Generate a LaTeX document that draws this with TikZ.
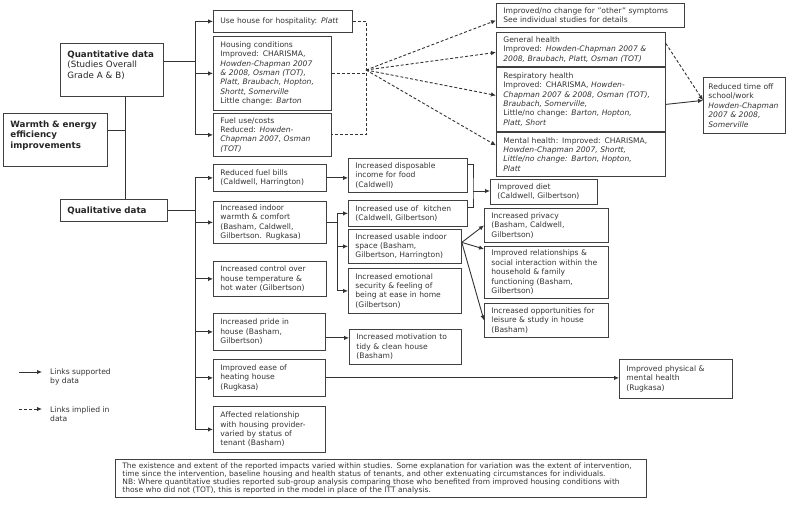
\documentclass[tikz,border=0pt]{standalone}
\usepackage{fontspec}
\setmainfont{DejaVu Sans}
\usetikzlibrary{arrows.meta}

\newcommand{\boxfont}{\fontsize{7.6}{9.4}\selectfont}
\newcommand{\headfont}{\fontsize{8.7}{10.6}\selectfont}
\newcommand{\notefont}{\fontsize{7.5}{8.2}\selectfont}

\tikzset{
  box/.style={draw=black!75, line width=0.8pt, anchor=north west, align=left, inner xsep=7pt, inner ysep=1pt, text=black!80, font=\boxfont},
  head/.style={box, font=\headfont, text=black!85},
  line/.style={line width=0.9pt, draw=black!80},
  link/.style={line, ->},
  implied/.style={line, dash pattern=on 3pt off 2pt},
  legend/.style={anchor=west, align=left, inner sep=0pt, text=black!80, font=\boxfont},
}

\begin{document}
\begin{tikzpicture}[x=1pt,y=-1pt,>={Latex[length=5pt,width=4.5pt]}]
	\useasboundingbox (0,0) rectangle (793,505);

	%headings
	\node[head, text width=89pt, minimum height=53pt] (quant) at (60,43) {\textbf{Quantitative data}\\(Studies Overall\\Grade A \& B)\\ \mbox{}};
	\node[head, text width=90pt, minimum height=53pt] (warm) at (3,113) {\textbf{Warmth \& energy}\\\textbf{efficiency}\\\textbf{improvements}\\ \mbox{}};
	\node[head, text width=93pt, minimum height=22pt] (qual) at (60,199) {\textbf{Qualitative data}};

	%quantitative outcomes
	\node[box, text width=125pt, minimum height=22pt] (hosp) at (213,10) {Use house for hospitality: \textit{Platt}};
	\node[box, text width=104pt, minimum height=74pt] (hcond) at (213,36) {Housing conditions\\Improved: CHARISMA,\\\textit{Howden-Chapman 2007}\\\textit{\& 2008, Osman (TOT),}\\\textit{Platt, Braubach, Hopton,}\\\textit{Shortt, Somerville}\\Little change: \textit{Barton}};
	\node[box, text width=104pt, minimum height=43pt] (fuel) at (213,113) {Fuel use/costs\\Reduced: \textit{Howden-}\\\textit{Chapman 2007, Osman}\\\textit{(TOT)}};

	%health outcomes
	\node[box, text width=174pt, minimum height=24pt] (other) at (496,3) {Improved/no change for "other" symptoms\\See individual studies for details};
	\node[box, text width=155pt, minimum height=34pt] (gen) at (496,32) {General health\\Improved: \textit{Howden-Chapman 2007 \&}\\\textit{2008, Braubach, Platt, Osman (TOT)}};
	\node[box, text width=155pt, minimum height=64pt] (resp) at (496,67) {Respiratory health\\Improved: CHARISMA, \textit{Howden-}\\\textit{Chapman 2007 \& 2008, Osman (TOT),}\\\textit{Braubach, Somerville,}\\Little/no change: \textit{Barton, Hopton,}\\\textit{Platt, Short}};
	\node[box, text width=155pt, minimum height=44pt] (ment) at (496,132) {Mental health: Improved: CHARISMA,\\\textit{Howden-Chapman 2007, Shortt,}\\\textit{Little/no change: Barton, Hopton,}\\\textit{Platt}};
	\node[box, inner xsep=5pt, text width=72pt, minimum height=56pt] (timeoff) at (703,77) {Reduced time off\\school/work\\\textit{Howden-Chapman}\\\textit{2007 \& 2008,}\\\textit{Somerville}};

	%qualitative outcomes
	\node[box, text width=99pt, minimum height=27pt] (fuelbill) at (213,164) {Reduced fuel bills\\(Caldwell, Harrington)};
	\node[box, text width=99pt, minimum height=42pt] (comfort) at (213,201) {Increased indoor\\warmth \& comfort\\(Basham, Caldwell,\\Gilbertson. Rugkasa)};
	\node[box, text width=99pt, minimum height=35pt] (control) at (213,261) {Increased control over\\house temperature \&\\hot water (Gilbertson)};
	\node[box, text width=98pt, minimum height=37pt] (pride) at (213,313) {Increased pride in\\house (Basham,\\Gilbertson)};
	\node[box, text width=98pt, minimum height=37pt] (ease) at (213,359) {Improved ease of\\heating house\\(Rugkasa)};
	\node[box, text width=98pt, minimum height=46pt] (provider) at (213,406) {Affected relationship\\with housing provider-\\varied by status of\\tenant (Basham)};

	%second level
	\node[box, text width=105pt, minimum height=34pt] (income) at (348,158) {Increased disposable\\income for food\\(Caldwell)};
	\node[box, text width=105pt, minimum height=26pt] (kitchen) at (348,200) {Increased use of \ kitchen\\(Caldwell, Gilbertson)};
	\node[box, text width=99pt, minimum height=34pt] (space) at (348,229) {Increased usable indoor\\space (Basham,\\Gilbertson, Harrington)};
	\node[box, text width=99pt, minimum height=45pt] (secure) at (348,268) {Increased emotional\\security \& feeling of\\being at ease in home\\(Gilbertson)};
	\node[box, text width=98pt, minimum height=35pt] (tidy) at (349,329) {Increased motivation to\\tidy \& clean house\\(Basham)};

	%third level
	\node[box, text width=93pt, minimum height=25pt] (diet) at (490,179) {Improved diet\\(Caldwell, Gilbertson)};
	\node[box, text width=110pt, minimum height=34pt] (privacy) at (484,208) {Increased privacy\\(Basham, Caldwell,\\Gilbertson)};
	\node[box, text width=110pt, minimum height=52pt] (relations) at (484,246) {Improved relationships \&\\social interaction within the\\household \& family\\functioning (Basham,\\Gilbertson)};
	\node[box, text width=110pt, minimum height=34pt] (leisure) at (484,303) {Increased opportunities for\\leisure \& study in house\\(Basham)};
	\node[box, text width=99pt, minimum height=39pt] (physical) at (619,359) {Improved physical \&\\mental health\\(Rugkasa)};

	%note
	\node[box, font=\notefont, text width=517pt, minimum height=38pt] (note) at (115,459) {The existence and extent of the reported impacts varied within studies. Some explanation for variation was the extent of intervention,\\time since the intervention, baseline housing and health status of tenants, and other extenuating circumstances for individuals.\\NB: Where quantitative studies reported sub-group analysis comparing those who benefited from improved housing conditions with\\those who did not (TOT), this is reported in the model in place of the ITT analysis.};

	%legend
	\node[legend] (lsupported) at (50,377) {Links supported\\by data};
	\node[legend] (limplied) at (50,414) {Links implied in\\data};
	\coordinate (lsupA) at (19,372);
	\coordinate (limpA) at (19,409);
	\draw[link] (lsupA) -- ++(23,0);
	\draw[implied,->] (limpA) -- ++(23,0);

	%junctions
	\coordinate (spine) at (125,0);
	\coordinate (wjoin) at (125,130);
	\coordinate (qjoin) at (195,61);
	\coordinate (ljoin) at (195,211);
	\coordinate (fan) at (366,70);
	\coordinate (wbus) at (337,222);
	\coordinate (djoin) at (473,191);

	%main spine
	\draw[line] (quant.south -| spine) -- (qual.north -| spine);
	\draw[line] (warm.east |- wjoin) -- (wjoin);

	%quantitative branch
	\draw[line] (quant.east |- qjoin) -- (qjoin);
	\draw[line] (qjoin |- hosp.west) -- (qjoin |- fuel.west);
	\draw[link] (qjoin |- hosp.west) -- (hosp.west);
	\draw[link] (qjoin |- hcond.west) -- (hcond.west);
	\draw[link] (qjoin |- fuel.west) -- (fuel.west);

	%implied links to health
	\draw[implied] (hosp.east) -| (fan |- fuel.east) -- (fuel.east);
	\draw[implied] (hcond.east) -- (hcond.east -| fan);
	\draw[implied,->] (fan) -- ([yshift=-5pt]other.west);
	\draw[implied,->] (fan) -- ([yshift=-3pt]gen.west);
	\draw[implied,->] (fan) -- ([yshift=4pt]resp.west);
	\draw[implied,->] (fan) -- ([yshift=9pt]ment.west);
	\draw[implied,->] ([yshift=6pt]gen.east) -- ([yshift=5pt]timeoff.west);
	\draw[link] ([yshift=-5pt]resp.east) -- ([yshift=5pt]timeoff.west);

	%qualitative branch
	\draw[line] (qual.east) -- (qual.east -| ljoin);
	\draw[line] (ljoin |- fuelbill.west) -- (ljoin |- provider.west);
	\draw[link] (ljoin |- fuelbill.west) -- (fuelbill.west);
	\draw[link] (ljoin |- comfort.west) -- (comfort.west);
	\draw[link] (ljoin |- control.west) -- (control.west);
	\draw[link] (ljoin |- pride.west) -- (pride.west);
	\draw[link] (ljoin |- ease.west) -- (ease.west);
	\draw[link] (ljoin |- provider.west) -- (provider.west);

	%second level links
	\draw[link] (fuelbill.east) -- (fuelbill.east -| income.west);
	\draw[line] (comfort.east) -- (comfort.east -| wbus);
	\draw[line] (wbus |- kitchen.west) -- (wbus |- secure.west);
	\draw[link] (wbus |- kitchen.west) -- (kitchen.west);
	\draw[link] (wbus |- space.west) -- (space.west);
	\draw[link] (wbus |- secure.west) -- (secure.west);
	\draw[link] ([yshift=-6pt]pride.east) -- ([yshift=-6pt]pride.east -| tidy.west);
	\draw[link] (ease.east) -- (ease.east -| physical.west);

	%third level links
	\draw[line] ([yshift=11pt]income.east) -| (djoin) |- ([yshift=6pt]kitchen.east);
	\draw[link] (djoin) -- (djoin -| diet.west);
	\draw[link] ([yshift=4pt]space.east) -- (privacy.west);
	\draw[link] ([yshift=4pt]space.east) -- ([yshift=-3pt]relations.north west);
	\draw[link] ([yshift=4pt]space.east) -- (leisure.west);
\end{tikzpicture}
\end{document}
